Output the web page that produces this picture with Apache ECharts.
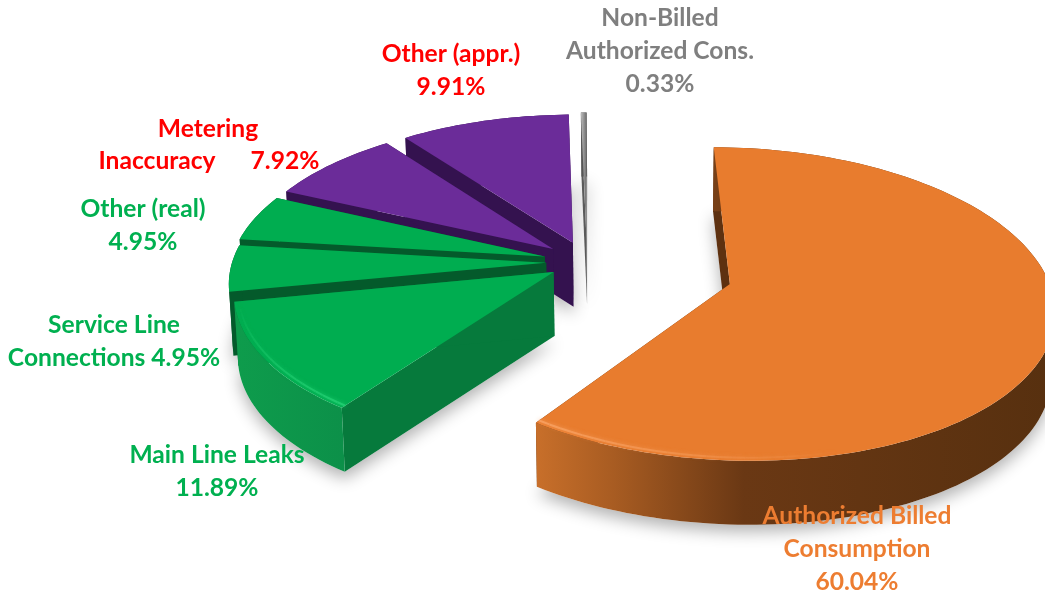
<!DOCTYPE html>
<html><head><meta charset="utf-8">
<style>html,body{margin:0;padding:0;background:#fff}#c{width:1045px;height:597px}</style>
<script src="https://cdn.jsdelivr.net/npm/echarts@6/dist/echarts.min.js"></script>
</head><body><div id="c"></div>
<script>
// ---- data ----
const categories = ['Authorized Billed Consumption','Main Line Leaks','Service Line Connections','Other (real)','Metering Inaccuracy','Other (appr.)','Non-Billed Authorized Cons.'];
const shares = [60.04, 11.89, 4.95, 4.95, 7.92, 9.91, 0.33];
const explodeAmount = [0.47, 0.125, 0.13, 0.14, 0.14, 0.14, 0.15];
const drawOrder = [6, 5, 4, 3, 2, 1, 0];

// ---- style ----
const topColors = ['#E87C2E','#00AD50','#00AD50','#00AD50','#6B2C99','#6B2C99',
  {type:'linear',x:0,y:0,x2:1,y2:0,colorStops:[{offset:0,color:'#BDBDBD'},{offset:1,color:'#6E6E6E'}]}];
const cutColors = ['#5E3110','#067A3C','#045A2B','#045A2B','#34124F','#34124F','#5A5A5A'];
const wallStops = [
  [[0,'#C86F2A'],[0.15,'#A85C22'],[0.4,'#6A3814'],[1,'#57300F']],
  [[0,'#0E9C4C'],[1,'#0C9049']],
  [[0,'#045A2B'],[1,'#045A2B']],
  [[0,'#045A2B'],[1,'#045A2B']],
  [[0,'#34124F'],[1,'#34124F']],
  [[0,'#34124F'],[1,'#34124F']],
  [[0,'#555555'],[1,'#555555']]
];
const bevelColors = ['#F7A060','#22CE72',null,null,null,null,null];
const bevelSpan = [-50, 42, 0, 0, 0, 0, 0];
const labelColors = {orange:'#ED7D31', green:'#00B050', red:'#FF0000', gray:'#7F7F7F'};
const labelBlocks = [
  {text:'Non-Billed\nAuthorized Cons.\n0.33%', x:660, y:2, c:'gray'},
  {text:'Other (appr.)\n9.91%', x:451, y:38, c:'red'},
  {text:'Metering', x:208, y:113, c:'red'},
  {text:'Inaccuracy', x:157, y:145, c:'red'},
  {text:'7.92%', x:285, y:145, c:'red'},
  {text:'Other (real)\n4.95%', x:143, y:193, c:'green'},
  {text:'Service Line\nConnections 4.95%', x:114, y:309, c:'green'},
  {text:'Main Line Leaks\n11.89%', x:217, y:439, c:'green'},
  {text:'Authorized Billed\nConsumption\n60.04%', x:857, y:500, c:'orange'}
];
const view = {cx:587, cy:262, rx:314, ry:148.6, p:0.125, depth:64, vx:640, converge:0.01};

// ---- geometry ----
const total = shares.reduce((a,b)=>a+b,0);
const rad = d => d*Math.PI/180;
function sliceAngles(i){
  let s=0; for(let k=0;k<i;k++) s+=shares[k];
  return [s/total*360,(s+shares[i])/total*360];
}
function project(x,y,low){
  const f=1/(1+view.p*y);
  let X=view.cx+view.rx*x*f, Y=view.cy-view.ry*y*f;
  if(low){X+=(view.vx-X)*view.converge;Y+=view.depth;}
  return [X,Y];
}
function point(i,theta,r,low){
  const [a,b]=sliceAngles(i), m=rad((a+b)/2), e=explodeAmount[i];
  return project(e*Math.sin(m)+r*Math.sin(rad(theta)), e*Math.cos(m)+r*Math.cos(rad(theta)), low);
}
function arc(i,from,to,r,low){
  const n=Math.max(4,Math.ceil(Math.abs(to-from)/1.5)), out=[];
  for(let k=0;k<=n;k++) out.push(point(i,from+(to-from)*k/n,r,low));
  return out;
}
function renderShadow(params,api){
  const i=api.value(0), [a,b]=sliceAngles(i);
  const pts=[point(i,a,0,true)].concat(arc(i,a,b,1,true));
  return {type:'polygon',shape:{points:pts},style:{fill:'#ffffff',shadowBlur:16,shadowColor:'rgba(0,0,0,0.3)',shadowOffsetY:7}};
}
function renderSlice(params,api){
  const i=api.value(0), [a,b]=sliceAngles(i), kids=[];
  // cut walls first: the two straight faces of the slice
  [a,b].forEach(t=>{
    kids.push({type:'polygon',shape:{points:[point(i,t,0,false),point(i,t,1,false),point(i,t,1,true),point(i,t,0,true)]},style:{fill:cutColors[i]}});
  });
  const wall=arc(i,a,b,1,false).concat(arc(i,b,a,1,true));
  kids.push({type:'polygon',shape:{points:wall},style:{fill:{type:'linear',x:0,y:0,x2:1,y2:0,colorStops:wallStops[i].map(s=>({offset:s[0],color:s[1]}))}}});
  const face=[point(i,a,0,false)].concat(arc(i,a,b,1,false));
  kids.push({type:'polygon',shape:{points:face},style:{fill:topColors[i]}});
  if(bevelColors[i]){
    const corner=(i===0)?b:a, span=bevelSpan[i], n=24;
    for(let k=0;k<n;k++){
      const t0=corner+span*k/n, t1=corner+span*(k+1)/n;
      kids.push({type:'polyline',shape:{points:[point(i,t0,0.985,false),point(i,t1,0.985,false)]},
        style:{fill:null,stroke:bevelColors[i],lineWidth:2,opacity:0.9*(1-k/n),shadowBlur:4,shadowColor:bevelColors[i]}});
    }
  }
  return {type:'group',children:kids};
}
const seriesData = drawOrder.map(i=>({name:categories[i],value:[i,shares[i]]}));
const chart = echarts.init(document.getElementById('c'),null,{renderer:'canvas'});
chart.setOption({
  animation:false,
  backgroundColor:'#ffffff',
  series:[
    {type:'custom',coordinateSystem:'none',renderItem:renderShadow,data:seriesData,z:1,silent:true},
    {type:'custom',coordinateSystem:'none',renderItem:renderSlice,data:seriesData,z:2,silent:true}
  ],
  graphic:labelBlocks.map(b=>({type:'text',x:b.x,y:b.y,z:10,silent:true,
    style:{text:b.text,fill:labelColors[b.c],font:'bold 24.6px Lato, sans-serif',align:'center',verticalAlign:'top',lineHeight:33}}))
});
</script></body></html>
